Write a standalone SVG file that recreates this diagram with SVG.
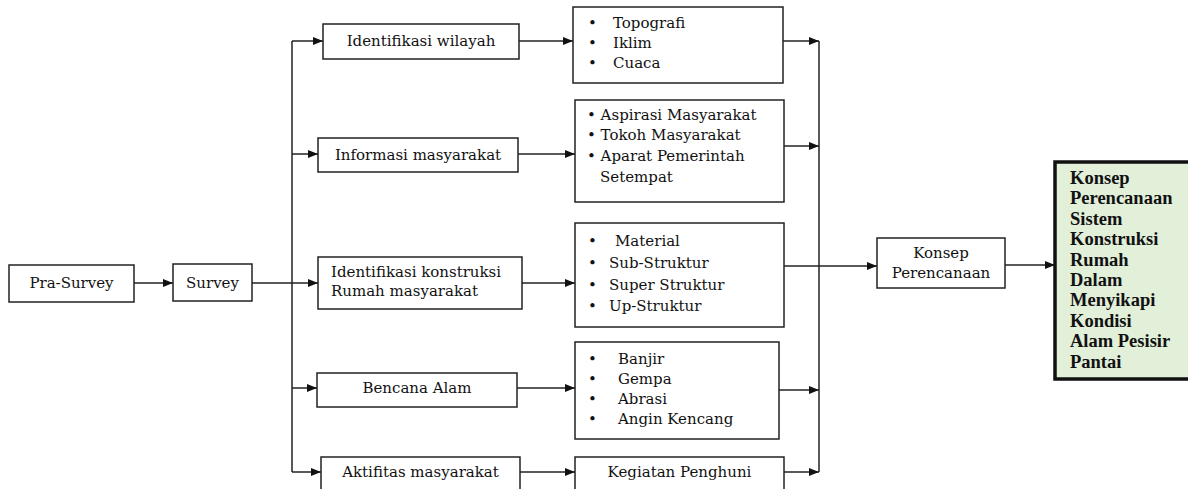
<svg xmlns="http://www.w3.org/2000/svg" width="1188" height="489" viewBox="0 0 1188 489">
<defs>
<style>
.box{fill:#fff;stroke:#222;stroke-width:1.5}
.t{font-family:"DejaVu Serif","Liberation Serif",serif;font-size:15px;fill:#111}
.c{text-anchor:middle}
.b{font-family:"Liberation Serif",serif;font-size:18.5px;font-weight:bold;fill:#111}
.ln{fill:none;stroke:#222;stroke-width:1.5}
</style>
<marker id="ah" markerUnits="userSpaceOnUse" markerWidth="11" markerHeight="9" refX="10" refY="4" orient="auto">
<path d="M0,0 L10,4 L0,8 z" fill="#111"/>
</marker>
</defs>
<rect width="1188" height="489" fill="#fff"/>
<g id="connectors">
<path class="ln" d="M134,283 H173" marker-end="url(#ah)"/>
<path class="ln" d="M252,283 H318" marker-end="url(#ah)"/>
<path class="ln" d="M292,41 V472"/>
<path class="ln" d="M292,41 H323" marker-end="url(#ah)"/>
<path class="ln" d="M292,154 H318" marker-end="url(#ah)"/>
<path class="ln" d="M292,388 H317" marker-end="url(#ah)"/>
<path class="ln" d="M292,472 H321" marker-end="url(#ah)"/>
<path class="ln" d="M519,41 H573" marker-end="url(#ah)"/>
<path class="ln" d="M518,154 H575" marker-end="url(#ah)"/>
<path class="ln" d="M522,283 H575" marker-end="url(#ah)"/>
<path class="ln" d="M517,388 H575" marker-end="url(#ah)"/>
<path class="ln" d="M520,472 H575" marker-end="url(#ah)"/>
<path class="ln" d="M783,41 H819" marker-end="url(#ah)"/>
<path class="ln" d="M784,146 H819" marker-end="url(#ah)"/>
<path class="ln" d="M779,390 H819" marker-end="url(#ah)"/>
<path class="ln" d="M784,472 H819" marker-end="url(#ah)"/>
<path class="ln" d="M819,41 V472"/>
<path class="ln" d="M784,266 H877" marker-end="url(#ah)"/>
<path class="ln" d="M1005,265 H1055" marker-end="url(#ah)"/>
</g>
<g id="pra-survey">
<rect class="box" x="9" y="265" width="125" height="37"/>
<text class="t c" x="71.5" y="288">Pra-Survey</text>
</g>
<g id="survey">
<rect class="box" x="173" y="264" width="79" height="37"/>
<text class="t c" x="212.5" y="288">Survey</text>
</g>
<g id="identifikasi-wilayah">
<rect class="box" x="323" y="24" width="196" height="35"/>
<text class="t c" x="421" y="46">Identifikasi wilayah</text>
</g>
<g id="informasi-masyarakat">
<rect class="box" x="318" y="138" width="200" height="34"/>
<text class="t c" x="418" y="160">Informasi masyarakat</text>
</g>
<g id="identifikasi-konstruksi">
<rect class="box" x="318" y="257" width="204" height="52"/>
<text class="t" x="331" y="277">Identifikasi konstruksi</text>
<text class="t" x="331" y="296">Rumah masyarakat</text>
</g>
<g id="bencana-alam">
<rect class="box" x="317" y="373" width="200" height="34"/>
<text class="t c" x="417" y="393">Bencana Alam</text>
</g>
<g id="aktifitas-masyarakat">
<rect class="box" x="321" y="457" width="199" height="40"/>
<text class="t c" x="420.5" y="477">Aktifitas masyarakat</text>
</g>
<g id="wilayah-list">
<rect class="box" x="573" y="7" width="210" height="76"/>
<text class="t" x="588" y="28">•</text><text class="t" x="613" y="28">Topografi</text>
<text class="t" x="588" y="48">•</text><text class="t" x="613" y="48">Iklim</text>
<text class="t" x="588" y="68">•</text><text class="t" x="613" y="68">Cuaca</text>
</g>
<g id="masyarakat-list">
<rect class="box" x="575" y="100" width="209" height="102"/>
<text class="t" x="587" y="120">• Aspirasi Masyarakat</text>
<text class="t" x="587" y="140">• Tokoh Masyarakat</text>
<text class="t" x="587" y="161">• Aparat Pemerintah</text>
<text class="t" x="600" y="182">Setempat</text>
</g>
<g id="konstruksi-list">
<rect class="box" x="575" y="223" width="209" height="104"/>
<text class="t" x="588" y="246">•</text><text class="t" x="615" y="246">Material</text>
<text class="t" x="588" y="268">•</text><text class="t" x="609" y="268">Sub-Struktur</text>
<text class="t" x="588" y="290">•</text><text class="t" x="609" y="290">Super Struktur</text>
<text class="t" x="588" y="311">•</text><text class="t" x="609" y="311">Up-Struktur</text>
</g>
<g id="bencana-list">
<rect class="box" x="575" y="342" width="204" height="97"/>
<text class="t" x="588" y="364">•</text><text class="t" x="618" y="364">Banjir</text>
<text class="t" x="588" y="384">•</text><text class="t" x="618" y="384">Gempa</text>
<text class="t" x="588" y="404">•</text><text class="t" x="618" y="404">Abrasi</text>
<text class="t" x="588" y="424">•</text><text class="t" x="618" y="424">Angin Kencang</text>
</g>
<g id="kegiatan-penghuni">
<rect class="box" x="575" y="457" width="209" height="40"/>
<text class="t c" x="679.5" y="477">Kegiatan Penghuni</text>
</g>
<g id="konsep-perencanaan">
<rect class="box" x="877" y="238" width="128" height="50"/>
<text class="t c" x="941" y="258">Konsep</text>
<text class="t c" x="941" y="278">Perencanaan</text>
</g>
<g id="hasil">
<rect x="1055" y="162" width="150" height="217" fill="#e2efd9" stroke="#111" stroke-width="3.5"/>
<text class="b" x="1070" y="184">Konsep</text>
<text class="b" x="1070" y="204.4">Perencanaan</text>
<text class="b" x="1070" y="224.8">Sistem</text>
<text class="b" x="1070" y="245.2">Konstruksi</text>
<text class="b" x="1070" y="265.6">Rumah</text>
<text class="b" x="1070" y="286">Dalam</text>
<text class="b" x="1070" y="306.4">Menyikapi</text>
<text class="b" x="1070" y="326.8">Kondisi</text>
<text class="b" x="1070" y="347.2">Alam Pesisir</text>
<text class="b" x="1070" y="367.6">Pantai</text>
</g>
</svg>
